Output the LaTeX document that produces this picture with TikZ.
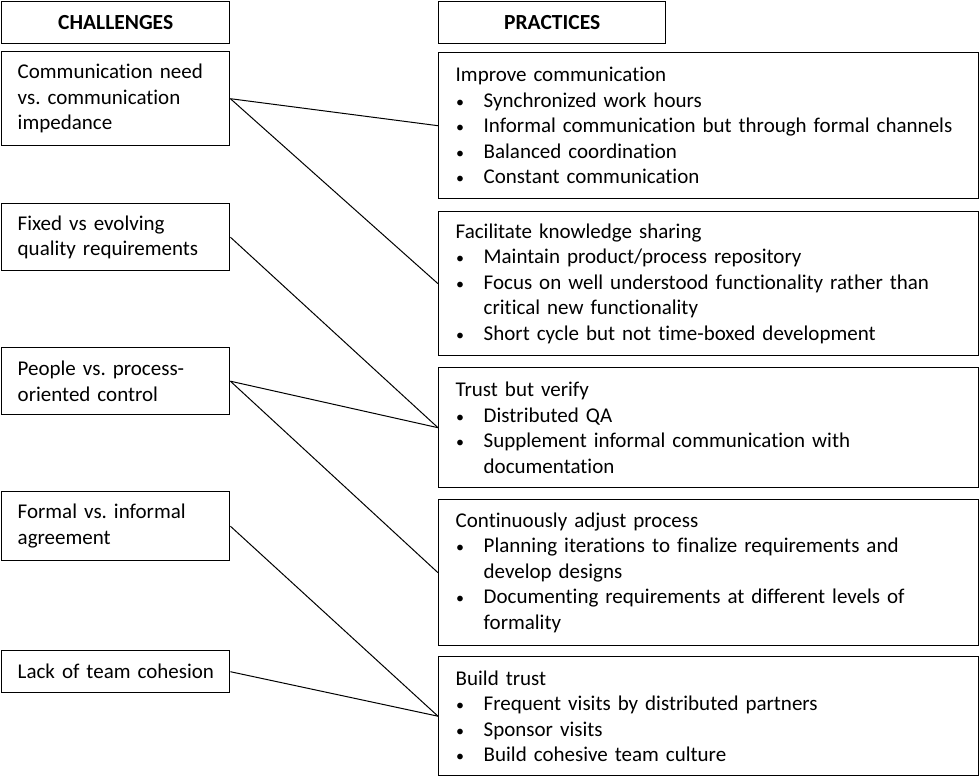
\documentclass[tikz,border=0pt]{standalone}
\usepackage{fontspec}
\setmainfont{Carlito}[Ligatures=NoCommon]
\frenchspacing
\newcommand\bul{\makebox[28pt][l]{\hspace{0.5pt}{\fontsize{16}{16}\selectfont\textbullet}}}
\newcommand\cont{\hspace*{28pt}}
\begin{document}
\begin{tikzpicture}[x=1pt,y=-1pt,
  box/.style={draw=black, line width=1.4pt, anchor=north west, inner ysep=0pt, align=left, font=\fontsize{21}{25.5}\selectfont\frenchspacing},
  chal/.style={box, inner xsep=16pt, text width=196pt, minimum width=228pt},
  prac/.style={box, inner xsep=17pt, text width=506pt, minimum width=540pt},
  head/.style={draw=black, line width=1.4pt, anchor=north west, inner sep=0pt, font=\fontsize{21.5}{24}\selectfont\bfseries, minimum height=42pt},
  link/.style={draw=black, line width=1pt}]
\useasboundingbox (0,0) rectangle (980,776);
\node[head, minimum width=228pt] (hc) at (1,1) {CHALLENGES};
\node[head, minimum width=227pt] (hp) at (438,1) {PRACTICES};

\node[chal, minimum height=94pt] (c1) at (1,51) {\mbox{Communication need}\\\mbox{vs. communication}\\impedance};
\node[chal, minimum height=67pt] (c2) at (1,203) {\mbox{Fixed vs evolving}\\\mbox{quality requirements}};
\node[chal, minimum height=67pt] (c3) at (1,347) {\mbox{People vs. process-}\\\mbox{oriented control}};
\node[chal, minimum height=69pt] (c4) at (1,491) {\mbox{Formal vs. informal}\\agreement};
\node[chal, minimum height=42pt] (c5) at (1,650) {\mbox{Lack of team cohesion}};

\node[prac, minimum height=146pt] (p1) at (438,52) {Improve communication\\
\bul Synchronized work hours\\
\bul Informal communication but through formal channels\\
\bul Balanced coordination\\
\bul Constant communication};
\node[prac, minimum height=144pt] (p2) at (438,211) {Facilitate knowledge sharing\\
\bul Maintain product/process repository\\
\bul Focus on well understood functionality rather than\\
\cont critical new functionality\\
\bul Short cycle but not time-boxed development};
\node[prac, minimum height=120pt] (p3) at (438,367) {Trust but verify\\
\bul Distributed QA\\
\bul Supplement informal communication with\\
\cont documentation};
\node[prac, minimum height=146pt] (p4) at (438,499) {Continuously adjust process\\
\bul Planning iterations to finalize requirements and\\
\cont develop designs\\
\bul Documenting requirements at different levels of\\
\cont formality};
\node[prac, minimum height=119pt] (p5) at (438,656) {Build trust\\
\bul Frequent visits by distributed partners\\
\bul Sponsor visits\\
\bul Build cohesive team culture};

\draw[link] (c1.east) -- (p1.west);
\draw[link] (c1.east) -- (p2.west);
\draw[link] (c2.east) -- (p3.west);
\draw[link] (c3.east) -- (p3.west);
\draw[link] (c3.east) -- (p4.west);
\draw[link] (c4.east) -- (p5.west);
\draw[link] (c5.east) -- (p5.west);
\end{tikzpicture}
\end{document}
